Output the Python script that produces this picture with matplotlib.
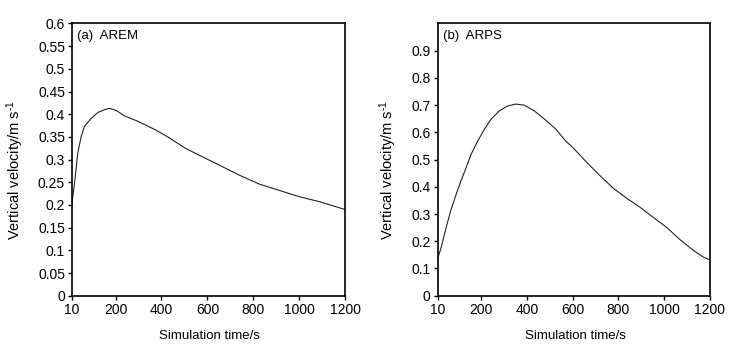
import numpy as np
import matplotlib
matplotlib.use("Agg")
import matplotlib.pyplot as plt

plt.rcParams['font.family'] = ['Liberation Sans', 'DejaVu Sans']
plt.rcParams['mathtext.fontset'] = 'custom'
plt.rcParams['mathtext.rm'] = 'Liberation Sans'
plt.rcParams['mathtext.it'] = 'Liberation Sans:italic'

# AREM 模拟 (a)
arem_t = [10, 21, 35, 50, 64, 94, 123, 152, 174, 204, 240, 299, 372, 431,
          504, 563, 651, 738, 826, 914, 1002, 1090, 1200]
arem_w = [0.204, 0.248, 0.314, 0.351, 0.373, 0.391, 0.404, 0.410, 0.413,
          0.408, 0.396, 0.384, 0.366, 0.349, 0.325, 0.310, 0.288, 0.266,
          0.246, 0.232, 0.218, 0.207, 0.190]

# ARPS 模拟 (b)
arps_t = [10, 24, 46, 68, 90, 112, 134, 156, 185, 214, 243, 280, 316, 352,
          389, 433, 484, 528, 568, 603, 662, 720, 778, 837, 895, 953, 1012,
          1070, 1128, 1172, 1200]
arps_w = [0.138, 0.173, 0.247, 0.315, 0.370, 0.422, 0.469, 0.519, 0.568,
          0.611, 0.648, 0.679, 0.697, 0.704, 0.700, 0.679, 0.644, 0.611,
          0.570, 0.543, 0.490, 0.441, 0.395, 0.358, 0.325, 0.288, 0.251,
          0.206, 0.167, 0.142, 0.132]

x_ticks = [10, 200, 400, 600, 800, 1000, 1200]
arem_yticks = [0, 0.05, 0.1, 0.15, 0.2, 0.25, 0.3, 0.35, 0.4, 0.45, 0.5, 0.55, 0.6]
arps_yticks = [0, 0.1, 0.2, 0.3, 0.4, 0.5, 0.6, 0.7, 0.8, 0.9]


def style_axis(ax, yticks, ylim, title, ylab_x):
    ax.set_xlim(10, 1200)
    ax.set_ylim(*ylim)
    ax.set_xticks(x_ticks)
    ax.set_xticklabels([str(v) for v in x_ticks])
    ax.set_yticks(yticks)
    ax.set_yticklabels(['%g' % v for v in yticks])
    ax.tick_params(direction='out', length=3, width=1, labelsize=10, pad=2,
                   top=False, right=False)
    for s in ax.spines.values():
        s.set_linewidth(1.2)
    ax.set_xlabel('Simulation time/s', fontsize=9.5)
    ax.set_ylabel(r'Vertical velocity/m s$^{\text{-1}}$', fontsize=10.5)
    ax.xaxis.set_label_coords(0.505, -0.126)
    ax.yaxis.set_label_coords(ylab_x, 0.46)
    ax.text(0.02, 0.955, title, transform=ax.transAxes, fontsize=9.5,
            ha='left', va='center')


def main():
    fig = plt.figure(figsize=(7.47, 3.46), dpi=100)
    ax1 = fig.add_axes([0.0964, 0.1454, 0.3655, 0.7867])
    ax2 = fig.add_axes([0.5859, 0.1454, 0.3641, 0.7867])

    ax1.plot(arem_t, arem_w, color='#222222', lw=0.8)
    style_axis(ax1, arem_yticks, (0, 0.6), '(a)  AREM', -0.17)

    ax2.plot(arps_t, arps_w, color='#222222', lw=0.8)
    style_axis(ax2, arps_yticks, (0, 1.0), '(b)  ARPS', -0.142)

    fig.savefig('out.png', dpi=100)


if __name__ == '__main__':
    main()
